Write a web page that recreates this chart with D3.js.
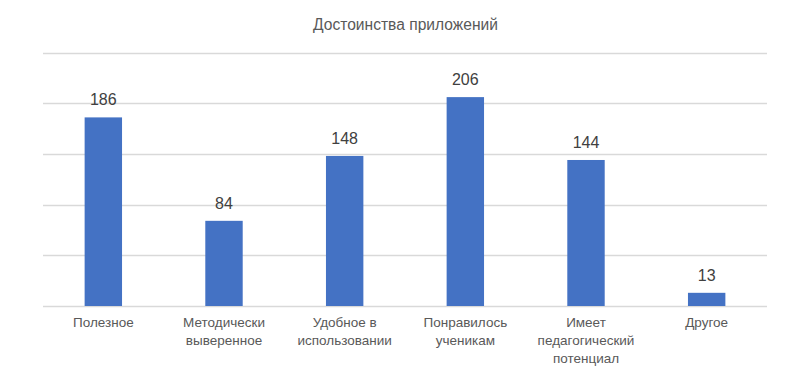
<!DOCTYPE html>
<html>
<head>
<meta charset="utf-8">
<script src="https://cdn.jsdelivr.net/npm/d3@7"></script>
<style>
  html, body { margin: 0; padding: 0; background: #fff; }
  svg { display: block; }
</style>
</head>
<body>
<div id="chart"></div>
<script>
// chart data
var title = "Достоинства приложений";
var categories = [
  "Полезное",
  "Методически выверенное",
  "Удобное в использовании",
  "Понравилось ученикам",
  "Имеет педагогический потенциал",
  "Другое"
];
var values = [186, 84, 148, 206, 144, 13];
var yTicks = [0, 50, 100, 150, 200, 250];

var width = 812, height = 371;
var font = "'Liberation Sans', Arial, sans-serif";

var svg = d3.select("#chart")
  .append("svg")
  .attr("width", width)
  .attr("height", height);

var x = d3.scaleBand()
  .domain(categories)
  .range([43, 767])
  .paddingInner(0.69)
  .paddingOuter(0.345);

var y = d3.scaleLinear()
  .domain([0, 250])
  .range([306, 52.5]);

// title
svg.append("text")
  .attr("x", 405.5)
  .attr("y", 30)
  .attr("text-anchor", "middle")
  .style("font-family", font)
  .style("font-size", "15.6px")
  .attr("fill", "#595959")
  .text(title);

// gridlines
svg.append("g")
  .selectAll("line")
  .data(yTicks)
  .enter()
  .append("line")
  .attr("x1", 43)
  .attr("x2", 767)
  .attr("y1", function (d) { return Math.round(y(d)) + 0.5; })
  .attr("y2", function (d) { return Math.round(y(d)) + 0.5; })
  .attr("stroke", "#d9d9d9")
  .attr("stroke-width", 1.3);

// bars
svg.append("g")
  .selectAll("rect")
  .data(values)
  .enter()
  .append("rect")
  .attr("x", function (d, i) { return x(categories[i]); })
  .attr("y", function (d) { return y(d); })
  .attr("width", x.bandwidth())
  .attr("height", function (d) { return y(0) - y(d); })
  .attr("fill", "#4472c4");

// value labels
svg.append("g")
  .selectAll("text")
  .data(values)
  .enter()
  .append("text")
  .attr("x", function (d, i) { return x(categories[i]) + x.bandwidth() / 2; })
  .attr("y", function (d) { return y(d) - 12; })
  .attr("text-anchor", "middle")
  .style("font-family", font)
  .style("font-size", "16px")
  .attr("fill", "#404040")
  .text(function (d) { return d; });

// category labels, wrapped like the original
var xAxis = d3.axisBottom(x).tickSize(0).tickPadding(0);
var axisG = svg.append("g")
  .attr("transform", "translate(0,306)")
  .call(xAxis);
axisG.select(".domain").remove();
axisG.selectAll(".tick text")
  .style("font-family", font)
  .style("font-size", "13.5px")
  .attr("fill", "#595959")
  .attr("dy", null)
  .attr("y", 21)
  .each(function (d) {
    var t = d3.select(this);
    var words = d.split(" ");
    var lines = [], line = [];
    t.text(null);
    var probe = t.append("tspan");
    words.forEach(function (w) {
      line.push(w);
      probe.text(line.join(" "));
      if (probe.node().getComputedTextLength() > 100 && line.length > 1) {
        line.pop();
        lines.push(line.join(" "));
        line = [w];
      }
    });
    lines.push(line.join(" "));
    probe.remove();
    lines.forEach(function (l, i) {
      t.append("tspan")
        .attr("x", 0)
        .attr("y", 21 + i * 18)
        .text(l);
    });
  });
</script>
</body>
</html>
